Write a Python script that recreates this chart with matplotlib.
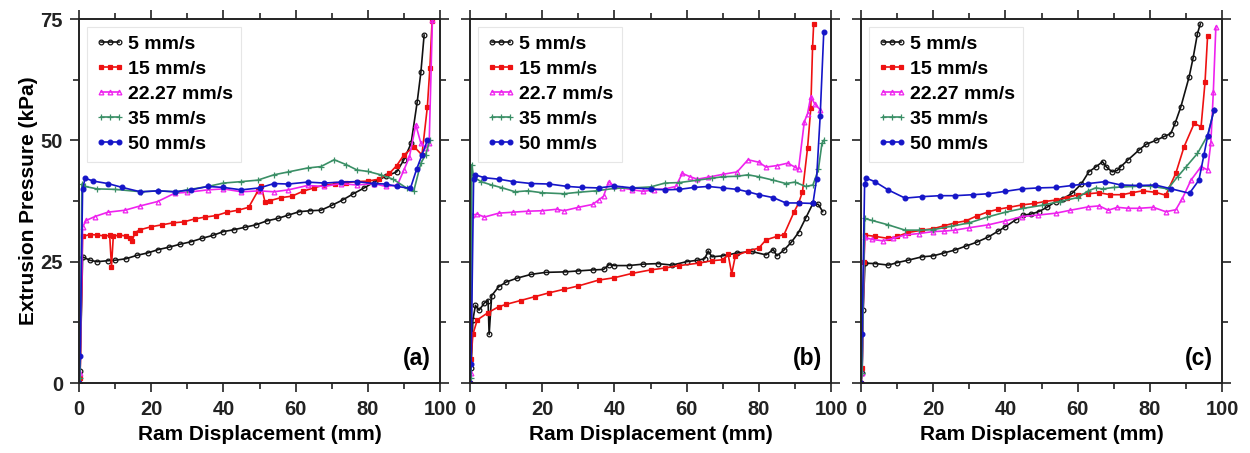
import numpy as np
import matplotlib.pyplot as plt
from matplotlib.ticker import MultipleLocator

plt.rcParams['font.family'] = ['Liberation Sans', 'DejaVu Sans']
plt.rcParams['font.weight'] = 'bold'

# ---- panel (a) ----
a_x5 = [0, 0.3, 1, 3, 5, 8, 10, 13, 16, 19, 22, 25, 28, 31, 34, 37, 40, 43, 46, 49, 52, 55, 58, 61, 64,
        67, 70, 73, 76, 79, 82, 85, 88, 90, 92, 93.7, 94.7, 95.6]
a_y5 = [0, 2.5, 26, 25.3, 25, 25.2, 25.3, 25.6, 26.3, 26.8, 27.5, 28, 28.6, 29.1, 29.8, 30.4, 31.2, 31.6,
        32.1, 32.6, 33.4, 33.9, 34.6, 35.3, 35.5, 35.6, 36.6, 37.7, 39.0, 40.2, 41.5, 42.6, 43.5, 46.0,
        49.4, 58.0, 64.0, 71.7]
a_x15 = [0, 0.3, 1, 3, 5, 7, 8.5, 9, 9.5, 11, 13, 14, 14.7, 15.5, 17, 20, 23, 26, 29, 32, 35, 38, 41,
         44, 47, 49.5, 50.5, 51.5, 53, 56, 59, 62, 65, 68, 71, 74, 77, 80, 83, 86, 88, 90, 92.8, 95,
         96.5, 97.2, 97.8]
a_y15 = [0, 1, 30.2, 30.6, 30.5, 30.3, 30.4, 24, 30.2, 30.5, 30.3, 29.8, 29.2, 31, 31.6, 32.2, 32.6,
         33, 33.2, 33.8, 34.2, 34.5, 35.2, 35.6, 36.2, 39.5, 40.5, 37.4, 37.6, 38.2, 38.5, 39.5, 40.2,
         40.8, 41, 41.3, 41.5, 41.6, 42, 43.2, 44.8, 47, 48.7, 47, 56.9, 65, 74.5]
a_x22 = [0, 0.3, 1, 2, 4.4, 8, 12.7, 17, 21.8, 26.5, 30, 35.7, 40, 45, 50, 54, 58, 63.3, 68, 72.5, 77,
         81.7, 85, 88.2, 90, 91.5, 93.3, 94.7, 96, 97, 97.9]
a_y22 = [0, 2, 32.2, 33.5, 34.3, 35.2, 35.6, 36.5, 37.4, 39.1, 39.3, 39.8, 40, 39.4, 39.6, 39.4, 39.8,
         40.7, 40.5, 41.1, 40.8, 41.1, 40.5, 40.8, 43.9, 46.5, 53.2, 49.4, 48.5, 49.4, 74.8]
a_x35 = [0, 0.3, 0.8, 1.7, 5, 10, 17.3, 22, 27, 30, 35.7, 40, 45, 49.5, 54, 58, 63.3, 67, 70.7, 74,
         77, 80, 83.6, 87, 90.9, 92.7, 94.7, 96, 97.2]
a_y35 = [0, 1, 41, 40.5, 40, 39.9, 39.4, 39.6, 39.4, 39.8, 40.5, 41.2, 41.5, 41.8, 42.9, 43.5, 44.3,
         44.6, 46, 45, 43.9, 43.6, 42.9, 42, 40.1, 39.5, 45.3, 47, 50]
a_x50 = [0, 0.3, 1, 1.7, 4, 8, 12, 17, 22, 26.5, 31, 35.7, 40, 45, 50, 54, 58, 63.3, 68, 72.5, 77,
         81.7, 85, 88.2, 91.8, 93.5, 95, 96.5]
a_y50 = [0, 5.5, 40, 42.2, 41.6, 41.1, 40.3, 39.4, 39.6, 39.4, 39.8, 40.5, 40.3, 39.8, 40.2, 41.1, 41,
         41.4, 41.2, 41.4, 41.5, 41.1, 41, 40.5, 40.1, 44, 47, 50]

# ---- panel (b) ----
b_x5 = [0, 0.3, 0.8, 1.5, 2.5, 4, 5, 5.3, 6, 7.9, 10, 13, 17, 21, 26.4, 30, 34, 37, 38.5, 40, 44, 48,
        52, 56, 60, 63, 65, 66, 67, 70, 74, 78, 82, 84, 85, 87, 89, 91, 93, 95, 96.5, 97.7]
b_y5 = [0, 3, 13, 16, 15, 16.5, 17, 10, 18, 19.8, 20.8, 21.6, 22.4, 22.8, 22.9, 23.1, 23.3, 23.4,
        24.4, 24.2, 24.2, 24.5, 24.6, 24.3, 25, 25.3, 25.6, 27.2, 26, 26.2, 26.8, 27.1, 26.4, 27.5,
        26.2, 27.4, 29, 31, 34, 37, 36.8, 35.3]
b_x15 = [0, 0.3, 0.8, 2, 5, 7.9, 10, 14, 18, 22, 26, 30, 35.6, 40, 45, 50, 54, 58, 63.4, 67, 70,
         71.5, 72.5, 73.5, 77, 80, 82, 85, 87, 89.8, 91, 92.1, 93.5, 94.4, 94.9, 95.2]
b_y15 = [0, 5, 10, 13, 14.5, 15.7, 16.2, 17, 17.8, 18.6, 19.3, 20, 21.2, 21.7, 22.6, 23.3, 23.7,
         24.2, 24.7, 25.2, 25.4, 26.5, 22.5, 26.2, 27.2, 27.8, 29.5, 30.2, 30.6, 35.3, 37, 39.4,
         48.4, 56.6, 69.3, 74]
b_x22 = [0, 0.3, 0.5, 2, 4, 8, 12, 16, 20, 24, 26, 30, 34, 35.6, 37, 38.4, 40, 42, 45, 48, 51, 54,
         57, 58.8, 61, 63, 66, 70, 74, 77, 80, 82, 85, 88, 90, 91, 92.6, 93.5, 94.4, 95.5, 97]
b_y22 = [0, 2, 34.6, 34.8, 34.2, 35, 35.2, 35.4, 35.5, 35.8, 35.5, 36.2, 36.8, 37.7, 38.5, 41.5,
         40.5, 40.2, 39.8, 39.5, 39.8, 40, 40.5, 43.2, 42.5, 42, 42.4, 43, 43.5, 46, 45.5, 44.5,
         44.8, 45.3, 44.5, 44, 53.8, 55.5, 59, 57.5, 56.3]
b_x35 = [0, 0.3, 0.5, 1, 3, 6, 9, 12.5, 16, 20, 26, 30, 35, 40, 45, 50, 54, 58, 63, 67, 70, 74, 77,
         80, 84, 87.5, 90, 93, 95, 96.5, 97.5, 98]
b_y35 = [0, 1, 45, 42.5, 41.5, 40.8, 40.2, 39.4, 39.6, 39.2, 39, 39.3, 39.6, 40.1, 40.2, 40.4,
         41.2, 41.3, 41.8, 42.2, 42.5, 42.6, 42.9, 42.5, 41.8, 41.1, 41.4, 40.5, 40.8, 44, 49.4, 50]
b_x50 = [0, 0.3, 1, 1.4, 4, 8, 12, 17, 22, 27, 31, 35.6, 40, 45, 50, 54, 58, 62, 66, 70, 74, 77, 80,
         84, 87.5, 91, 95, 96, 97, 98]
b_y50 = [0, 4, 42, 42.9, 42.3, 42, 41.5, 41.1, 41, 40.5, 40.3, 40.2, 40.6, 40.2, 40, 39.8, 39.9,
         40.3, 40.5, 40.2, 39.9, 39.4, 38.8, 38.2, 37.1, 37.1, 37, 42, 55, 72.4]

# ---- panel (c) ----
c_x5 = [0, 0.3, 0.6, 1.1, 4, 7.6, 10, 13, 16.9, 20, 23, 26, 29, 32, 35.3, 38, 40, 42.8, 45, 47,
        49.2, 51.5, 53.9, 56, 58.5, 61, 63.1, 65, 66.9, 68, 69.6, 71, 72, 74, 77, 79, 81.7, 84, 85.8,
        87, 88.6, 90.9, 92, 93.2, 94]
c_y5 = [0, 2, 15, 24.7, 24.6, 24.3, 24.8, 25.3, 26, 26.2, 26.8, 27.4, 28.2, 29, 30.1, 31.3, 32.2,
        33.6, 34.6, 34.8, 35.3, 36.2, 37.4, 38, 39.1, 41, 43.5, 44.5, 45.6, 44.5, 43.5, 43.8, 44.6,
        46, 48, 49.2, 50, 50.8, 51.4, 53.5, 56.9, 63.1, 67, 72, 74]
c_x15 = [0, 0.3, 0.8, 1.1, 4, 7.5, 10, 13, 16.9, 20, 23, 26, 29, 32, 35.3, 38, 41, 44.6, 48, 51,
         53.9, 57, 60, 63, 66, 69, 72.3, 75, 78, 81.5, 84.4, 87.2, 89.5, 92.3, 94.2, 95.3, 96]
c_y15 = [0, 3, 25, 30.5, 30.2, 29.8, 30.2, 31, 31.5, 31.8, 32.4, 33, 33.4, 34.4, 35.3, 35.8, 36.2,
         36.7, 37, 37.4, 37.7, 38.2, 38.8, 39, 39.2, 38.8, 38.8, 39.2, 39.6, 39.3, 38.7, 43.2, 48.7,
         53.5, 52.8, 62, 71.4]
c_x22 = [0, 0.3, 1, 3, 6, 9, 12.2, 16, 20, 23, 26, 30, 35.3, 40, 44.6, 49, 54, 58, 63, 66, 68.5,
         71, 74, 77, 81, 84.4, 87.2, 89, 91.4, 94.2, 96, 96.9, 97.6, 98.3]
c_y22 = [0, 2, 30, 29.6, 29.3, 29.8, 30.5, 30.8, 31.2, 31.3, 31.5, 32, 32.6, 33.4, 34.3, 34.6, 35,
         35.6, 36.3, 36.5, 35.6, 36.2, 36, 36, 36.2, 35.3, 35.7, 38, 41.8, 44.6, 43.9, 49.4, 60, 73.4]
c_x35 = [0, 0.3, 1, 3, 7.5, 12.2, 16, 20, 25, 30, 35, 40, 45, 50, 55, 60, 63, 65, 67, 70, 75, 80,
         85, 87.7, 90, 93.2, 96, 97.8]
c_y35 = [0, 2, 33.9, 33.5, 32.6, 31.5, 31.5, 31.6, 32.3, 33, 34.2, 35.2, 36, 36.6, 37.4, 38.2,
         39.6, 40.2, 40, 40.3, 40.5, 40.6, 40, 42.5, 44.5, 47.3, 51, 56.3]
c_x50 = [0, 0.3, 1, 1.5, 3.8, 7.5, 12.2, 16.9, 22, 26, 31, 35.3, 40, 44.6, 49, 54, 58.5, 63, 67.7,
         72, 77, 81.5, 86, 91, 93.6, 95, 96, 97.8]
c_y50 = [0, 10, 41, 42.2, 41.5, 39.8, 38.1, 38.4, 38.6, 38.6, 38.8, 39, 39.5, 40, 40.2, 40.3, 40.7,
         41.1, 41.5, 40.8, 40.7, 40.8, 40, 39.1, 41.8, 47, 50.8, 56.3]

labels_a = ['5 mm/s', '15 mm/s', '22.27 mm/s', '35 mm/s', '50 mm/s']
labels_b = ['5 mm/s', '15 mm/s', '22.7 mm/s', '35 mm/s', '50 mm/s']
labels_c = labels_a

panels = [
    ('(a)', labels_a, [(a_x5, a_y5), (a_x15, a_y15), (a_x22, a_y22), (a_x35, a_y35), (a_x50, a_y50)]),
    ('(b)', labels_b, [(b_x5, b_y5), (b_x15, b_y15), (b_x22, b_y22), (b_x35, b_y35), (b_x50, b_y50)]),
    ('(c)', labels_c, [(c_x5, c_y5), (c_x15, c_y15), (c_x22, c_y22), (c_x35, c_y35), (c_x50, c_y50)]),
]

# line colour, marker, filled marker?
styles = [
    ('#111111', 'o', False),
    ('#ee1111', 's', True),
    ('#ee22ee', '^', False),
    ('#3a8f66', '+', False),
    ('#1515c8', 'o', True),
]

fs = 14.5

fig = plt.figure(figsize=(12.5, 4.53), dpi=100)
lefts = [0.0632, 0.376, 0.6888]
width = 0.2888

for i, (tag, labels, series) in enumerate(panels):
    ax = fig.add_axes([lefts[i], 0.1545, width, 0.8035])
    for (x, y), (col, mk, filled), lab in zip(series, styles, labels):
        ax.plot(x, y, color=col, lw=1.2, marker=mk, ms=3.4 if mk != '+' else 4.5,
                mfc=col if filled else 'none', mec=col, mew=0.9, label=lab)
    ax.set_xlim(0, 100)
    ax.set_ylim(0, 75)
    ax.xaxis.set_major_locator(MultipleLocator(20))
    ax.xaxis.set_minor_locator(MultipleLocator(10))
    ax.yaxis.set_major_locator(MultipleLocator(25))
    ax.yaxis.set_minor_locator(MultipleLocator(12.5))
    ax.tick_params(which='both', direction='out', top=True, right=True, width=1.2,
                   labelsize=fs, colors='#222222')
    ax.tick_params(which='major', length=6.5)
    ax.tick_params(which='minor', length=4)
    ax.tick_params(axis='x', pad=6)
    ax.tick_params(axis='y', pad=5)
    for t in ax.get_xticklabels() + ax.get_yticklabels():
        t.set_fontweight('bold')
    for sp in ax.spines.values():
        sp.set_linewidth(1.4)
        sp.set_color('#222222')
    if i > 0:
        ax.tick_params(labelleft=False)
    else:
        ax.set_ylabel('Extrusion Pressure (kPa)', fontsize=15, fontweight='bold', labelpad=2)
    ax.set_xlabel('Ram Displacement (mm)', fontsize=15, fontweight='bold', labelpad=4)
    ax.text(0.975, 0.035, tag, transform=ax.transAxes, ha='right', va='bottom',
            fontsize=16.5, fontweight='bold')
    leg = ax.legend(loc='upper left', numpoints=3, handlelength=1.5, handletextpad=0.15,
                    labelspacing=0.38, borderaxespad=0.4, borderpad=0.45, fancybox=False,
                    prop={'weight': 'bold', 'size': 14}, framealpha=1)
    leg.get_frame().set_edgecolor('#e6e6e6')
    leg.get_frame().set_linewidth(0.8)

fig.savefig('out.png', dpi=100)
